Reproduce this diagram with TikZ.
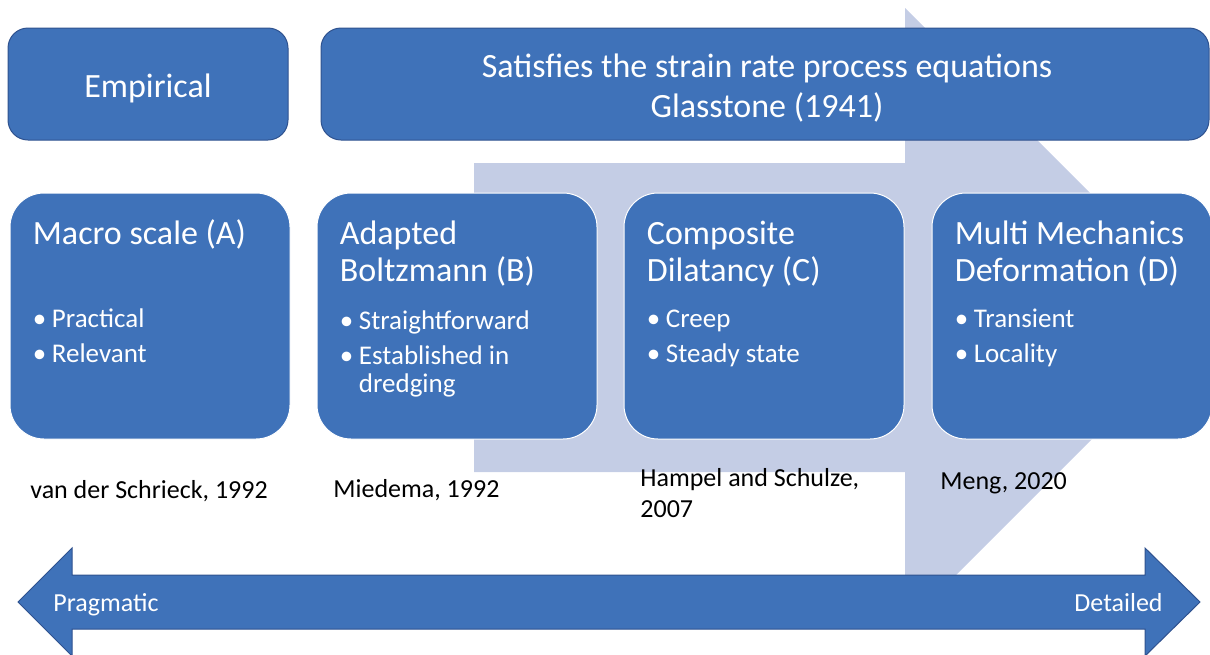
\documentclass[tikz,border=0pt]{standalone}
\usepackage{fontspec}
\setmainfont{Carlito}
\usetikzlibrary{positioning}
\definecolor{boxblue}{RGB}{63,114,185}
\definecolor{paleblue}{RGB}{196,205,229}
\definecolor{rimblue}{RGB}{47,82,143}
\def\Schrieck{van der Schrieck, 1992}
\def\Miedema{Miedema, 1992}
\def\Hampel{Hampel and Schulze,\\2007}
\def\Meng{Meng, 2020}
\newcommand{\point}[1]{\makebox[9.5pt][l]{\textbullet}#1}
\newcommand{\pointgap}{\\[3.5pt]}
\newcommand{\pointcont}[1]{\hspace*{9.5pt}#1}

\begin{document}
\begin{tikzpicture}[x=0.5pt, y=-0.5pt,
                    header/.style={
                        draw=rimblue, line width=0.5pt, fill=boxblue,
                        rounded corners=10pt,
                        minimum height=56pt
                    },
                    headtext/.style={
                        anchor=base, inner sep=0pt, align=center, text=white,
                        font=\fontsize{17}{20}\selectfont
                    },
                    model/.style={
                        draw=white, line width=0.5pt, fill=boxblue,
                        rounded corners=17pt,
                        minimum width=140pt, minimum height=123pt
                    },
                    title/.style={
                        anchor=base west, inner sep=0pt, align=left, text=white,
                        font=\fontsize{17}{18.5}\selectfont
                    },
                    points/.style={
                        anchor=base west, inner sep=0pt, align=left, text=white,
                        font=\fontsize{13.5}{14}\selectfont
                    },
                    source/.style={
                        anchor=base west, inner sep=0pt, align=left,
                        font=\fontsize{13}{15.5}\selectfont
                    },
                    arrowbar/.style={
                        draw=rimblue, line width=0.5pt, fill=boxblue
                    },
                    arrowtext/.style={
                        inner sep=0pt, text=white,
                        font=\fontsize{13}{15}\selectfont
                    }]
    \useasboundingbox (0,0) rectangle (1210,654);

    \fill[paleblue] (474,163) -- (905,163) -- (905,8) -- (1214,317)
        -- (905,626) -- (905,472) -- (474,472) -- cycle;

    \node[header, minimum width=140pt] (emp) at (148,84) {};
    \node[header, minimum width=444pt] (glass) at (765,84) {};
    \node[headtext] (empt) at (emp.center |- 0,97) {Empirical};
    \node[headtext] (glasst) at (767,117) {Satisfies the strain rate process equations\\Glasstone (1941)};

    \node[model] (A) at (150,316) {};
    \node[model] (B) at (457,316) {};
    \node[model] (C) at (764,316) {};
    \node[model] (D) at (1072,316) {};

    \node[title] (At) at ([shift={(23,52)}]A.north west) {Macro scale (A)};
    \node[title] (Bt) at ([shift={(23,89)}]B.north west) {Adapted\\Boltzmann (B)};
    \node[title] (Ct) at ([shift={(23,89)}]C.north west) {Composite\\Dilatancy (C)};
    \node[title] (Dt) at ([shift={(23,89)}]D.north west) {Multi Mechanics\\Deformation (D)};

    \node[points] (Ap) at ([shift={(23,170)}]A.north west)
        {\point{Practical}\pointgap\point{Relevant}};
    \node[points] (Bp) at ([shift={(23,200)}]B.north west)
        {\point{Straightforward}\pointgap\point{Established in}\\\pointcont{dredging}};
    \node[points] (Cp) at ([shift={(23,170)}]C.north west)
        {\point{Creep}\pointgap\point{Steady state}};
    \node[points] (Dp) at ([shift={(23,170)}]D.north west)
        {\point{Transient}\pointgap\point{Locality}};

    \node[source] (As) at (30,498) {\Schrieck};
    \node[source] (Bs) at (333,497) {\Miedema};
    \node[source] (Cs) at (640,517) {\Hampel};
    \node[source] (Ds) at (940,489) {\Meng};

    \draw[arrowbar] (18,602) -- (72,548) -- (72,575) -- (1145,575) -- (1145,548)
        -- (1200,602) -- (1145,656) -- (1145,629) -- (72,629) -- (72,656) -- cycle;
    \node[arrowtext, anchor=base west] (prag) at (53,611) {Pragmatic};
    \node[arrowtext, anchor=base east] (det) at (1163,611) {Detailed};
\end{tikzpicture}
\end{document}
